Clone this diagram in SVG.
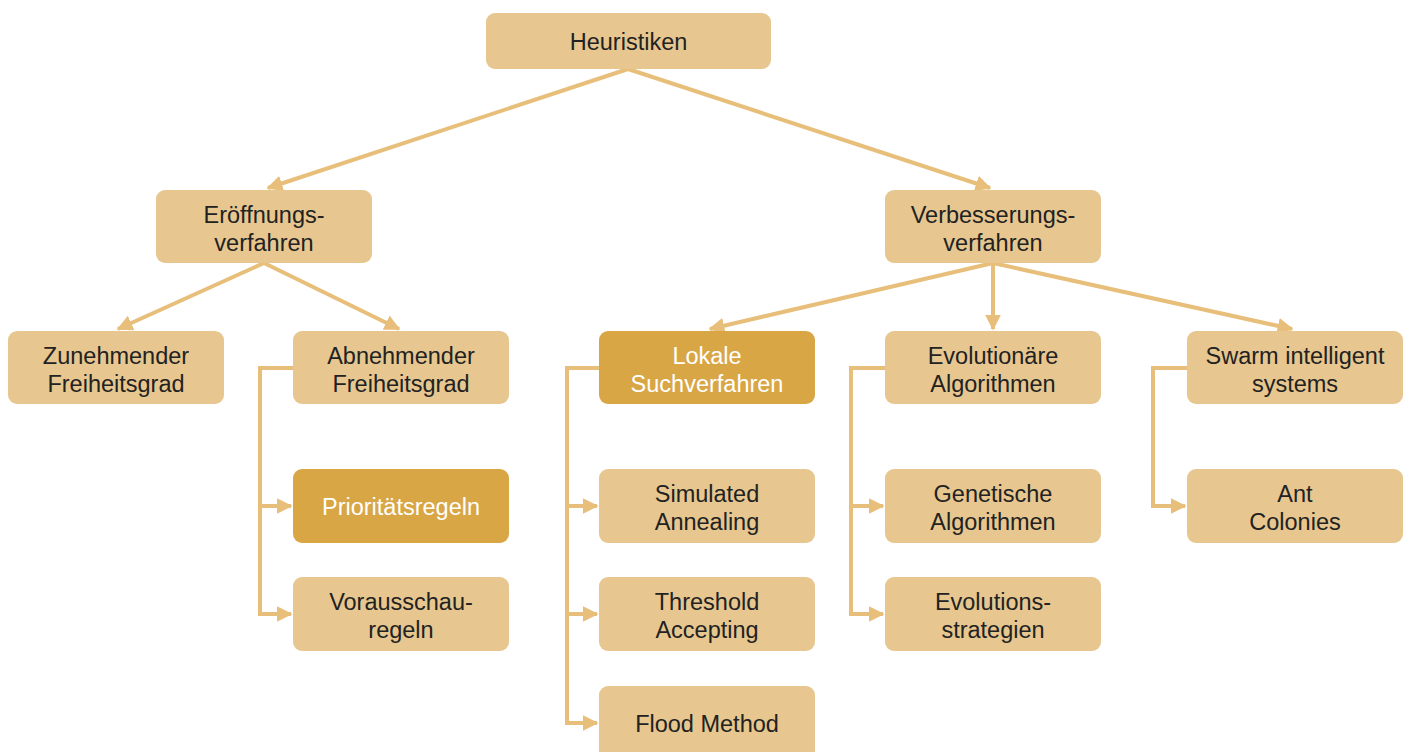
<svg xmlns="http://www.w3.org/2000/svg" width="1408" height="752" viewBox="0 0 1408 752">
<defs>
<marker id="ah" viewBox="0 0 10 10" refX="9" refY="5" markerWidth="4" markerHeight="4" orient="auto" markerUnits="strokeWidth">
<path d="M0,0 L10,5 L0,10 Z" fill="#E8BF7A"/>
</marker>
<style>
.n{fill:#E7C78F}
.d{fill:#D9A646}
.t{font-family:"Liberation Sans",Arial,sans-serif;font-size:23.5px;fill:#222;text-anchor:middle}
.w{font-family:"Liberation Sans",Arial,sans-serif;font-size:23.5px;fill:#fff;text-anchor:middle}
.c{stroke:#E8BF7A;stroke-width:4;fill:none}
</style>
</defs>
<rect width="1408" height="752" fill="#fff"/>
<g id="connectors">
<line class="c" x1="628" y1="69" x2="268" y2="188" marker-end="url(#ah)"/>
<line class="c" x1="628" y1="69" x2="990" y2="188" marker-end="url(#ah)"/>
<line class="c" x1="264" y1="263" x2="118" y2="329" marker-end="url(#ah)"/>
<line class="c" x1="264" y1="263" x2="399" y2="329" marker-end="url(#ah)"/>
<line class="c" x1="993" y1="263" x2="710" y2="329" marker-end="url(#ah)"/>
<line class="c" x1="993" y1="263" x2="993" y2="329" marker-end="url(#ah)"/>
<line class="c" x1="993" y1="263" x2="1292" y2="329" marker-end="url(#ah)"/>
<polyline class="c" points="293,368 260,368 260,614"/>
<line class="c" x1="258" y1="506" x2="291" y2="506" marker-end="url(#ah)"/>
<line class="c" x1="258" y1="614" x2="291" y2="614" marker-end="url(#ah)"/>
<polyline class="c" points="599,368 567,368 567,723"/>
<line class="c" x1="565" y1="506" x2="597" y2="506" marker-end="url(#ah)"/>
<line class="c" x1="565" y1="614" x2="597" y2="614" marker-end="url(#ah)"/>
<line class="c" x1="565" y1="723" x2="597" y2="723" marker-end="url(#ah)"/>
<polyline class="c" points="885,368 851,368 851,614"/>
<line class="c" x1="849" y1="506" x2="883" y2="506" marker-end="url(#ah)"/>
<line class="c" x1="849" y1="614" x2="883" y2="614" marker-end="url(#ah)"/>
<polyline class="c" points="1187,368 1153,368 1153,506 1185,506" marker-end="url(#ah)"/>
</g>
<g id="heuristiken"><rect class="n" x="486" y="13" width="285" height="56" rx="9"/><text class="t" x="628.5" y="50">Heuristiken</text></g>
<g id="eroeffnung"><rect class="n" x="156" y="190" width="216" height="73" rx="9"/><text class="t" x="264" y="223">Eröffnungs-</text><text class="t" x="264" y="251">verfahren</text></g>
<g id="verbesserung"><rect class="n" x="885" y="190" width="216" height="73" rx="9"/><text class="t" x="993" y="223">Verbesserungs-</text><text class="t" x="993" y="251">verfahren</text></g>
<g id="zunehmend"><rect class="n" x="8" y="331" width="216" height="73" rx="9"/><text class="t" x="116" y="364">Zunehmender</text><text class="t" x="116" y="392">Freiheitsgrad</text></g>
<g id="abnehmend"><rect class="n" x="293" y="331" width="216" height="73" rx="9"/><text class="t" x="401" y="364">Abnehmender</text><text class="t" x="401" y="392">Freiheitsgrad</text></g>
<g id="lokale"><rect class="d" x="599" y="331" width="216" height="73" rx="9"/><text class="w" x="707" y="364">Lokale</text><text class="w" x="707" y="392">Suchverfahren</text></g>
<g id="evolutionaere"><rect class="n" x="885" y="331" width="216" height="73" rx="9"/><text class="t" x="993" y="364">Evolutionäre</text><text class="t" x="993" y="392">Algorithmen</text></g>
<g id="swarm"><rect class="n" x="1187" y="331" width="216" height="73" rx="9"/><text class="t" x="1295" y="364">Swarm intelligent</text><text class="t" x="1295" y="392">systems</text></g>
<g id="prioritaet"><rect class="d" x="293" y="469" width="216" height="74" rx="9"/><text class="w" x="401" y="515">Prioritätsregeln</text></g>
<g id="simulated"><rect class="n" x="599" y="469" width="216" height="74" rx="9"/><text class="t" x="707" y="502">Simulated</text><text class="t" x="707" y="530">Annealing</text></g>
<g id="genetische"><rect class="n" x="885" y="469" width="216" height="74" rx="9"/><text class="t" x="993" y="502">Genetische</text><text class="t" x="993" y="530">Algorithmen</text></g>
<g id="ant"><rect class="n" x="1187" y="469" width="216" height="74" rx="9"/><text class="t" x="1295" y="502">Ant</text><text class="t" x="1295" y="530">Colonies</text></g>
<g id="vorausschau"><rect class="n" x="293" y="577" width="216" height="74" rx="9"/><text class="t" x="401" y="610">Vorausschau-</text><text class="t" x="401" y="638">regeln</text></g>
<g id="threshold"><rect class="n" x="599" y="577" width="216" height="74" rx="9"/><text class="t" x="707" y="610">Threshold</text><text class="t" x="707" y="638">Accepting</text></g>
<g id="evostrat"><rect class="n" x="885" y="577" width="216" height="74" rx="9"/><text class="t" x="993" y="610">Evolutions-</text><text class="t" x="993" y="638">strategien</text></g>
<g id="flood"><rect class="n" x="599" y="686" width="216" height="80" rx="9"/><text class="t" x="707" y="732">Flood Method</text></g>
</svg>
